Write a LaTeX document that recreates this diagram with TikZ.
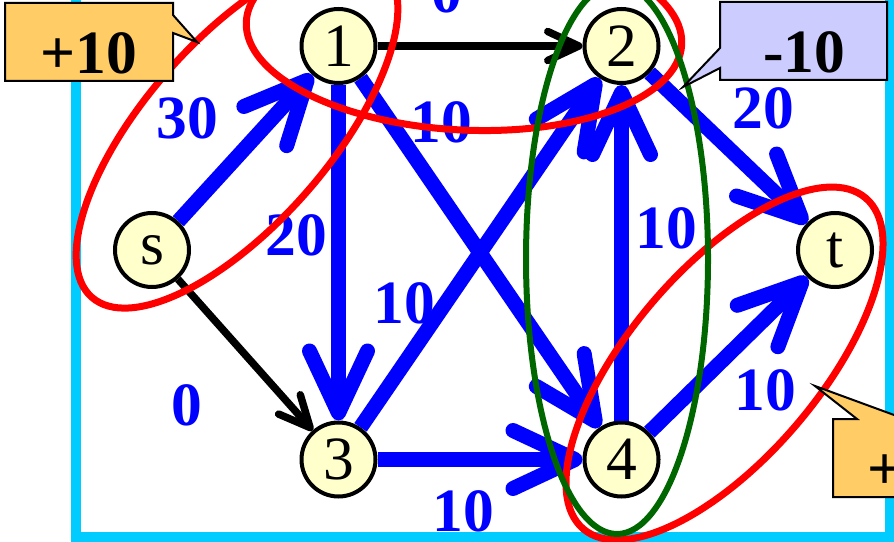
\documentclass[tikz,border=0pt]{standalone}
\usepackage{fontspec}
\setmainfont{Liberation Serif}
\usetikzlibrary{arrows.meta}

\definecolor{nodefill}{RGB}{255,255,204}
\definecolor{framecyan}{RGB}{0,204,255}
\definecolor{cutgreen}{RGB}{0,102,0}
\definecolor{gainorange}{RGB}{255,204,102}
\definecolor{losslilac}{RGB}{204,204,255}

\newcommand{\bigfont}{\fontsize{35}{40}\selectfont}

\begin{document}
\begin{tikzpicture}[
    vertex/.style={circle, draw=black, line width=0.08cm, fill=nodefill,
                   minimum size=1.48cm, inner sep=0pt, font=\bigfont},
    flow/.style={draw=blue, line width=0.3cm,
                 -{Straight Barb[length=1.24cm, width=1.16cm, line width=0.3cm, round]}},
    zeroflow/.style={draw=black, line width=0.15cm,
                 -{Straight Barb[length=0.62cm, width=0.58cm, line width=0.15cm, round]}},
    weight/.style={font=\bigfont\bfseries, text=blue, inner sep=0pt, text depth=0pt},
    cut/.style={draw=red, line width=0.14cm},
    callout/.style={draw=black, line width=0.04cm},
    tag/.style={font=\bigfont\bfseries, inner sep=0pt, text depth=0pt}
]
\useasboundingbox (0,0) rectangle (17.88,10.82);
\clip (0,0) rectangle (17.88,10.82);
\draw[framecyan, line width=0.2cm] (1.52,11.5) -- (1.52,0.08) -- (17.80,0.08) -- (17.80,11.5);

\node[vertex] (s) at (3.04,5.82) {s};
\node[vertex] (1) at (6.77,9.90) {1};
\node[vertex] (2) at (12.43,9.90) {2};
\node[vertex] (3) at (6.77,1.63) {3};
\node[vertex] (4) at (12.43,1.63) {4};
\node[vertex] (t) at (16.70,5.82) {t};

\foreach \a/\b in {s/1,1/3,1/4,3/2,3/4,4/2,2/t,4/t} {
    \draw[flow] (\a) -- (\b);
}
\draw[zeroflow] (s) -- (3);
\draw[zeroflow] (1) -- (2);

% capacities
\node[weight] (w-s1) at (3.74,8.46) {30};
\node[weight] (w-s3) at (3.74,2.72) {0};
\node[weight] (w-12) at (8.94,10.98) {0};
\node[weight] (w-13) at (5.92,6.12) {20};
\node[weight] (w-14) at (8.82,8.38) {10};
\node[weight] (w-32) at (8.08,4.76) {10};
\node[weight] (w-34) at (9.26,0.60) {10};
\node[weight] (w-42) at (13.32,6.26) {10};
\node[weight] (w-2t) at (15.26,8.66) {20};
\node[weight] (w-4t) at (15.30,3.02) {10};

% cuts
\draw[cut, rotate around={48.7:(4.74,8.18)}] (4.74,8.18) ellipse [x radius=4.40, y radius=1.84];
\draw[cut, rotate around={-3:(9.28,10.16)}] (9.28,10.16) ellipse [x radius=4.36, y radius=1.94];
\draw[cut, rotate around={49.5:(14.49,3.55)}] (14.49,3.55) ellipse [x radius=4.35, y radius=1.89];
\draw[cutgreen, line width=0.12cm] (12.34,5.64) ellipse [x radius=1.82, y radius=5.50];

% callouts
\draw[callout, fill=gainorange] (0.10,10.76) -- (3.46,10.76) -- (3.46,10.52) -- (3.94,9.98)
    -- (3.46,10.16) -- (3.46,9.20) -- (0.10,9.20) -- cycle;
\node[tag] (gain-a) at (1.78,9.76) {+10};
\draw[callout, fill=losslilac] (14.40,10.78) -- (17.74,10.78) -- (17.74,9.22) -- (14.40,9.22)
    -- (14.40,9.46) -- (13.66,9.08) -- (14.40,9.86) -- cycle;
\node[tag] (loss) at (16.08,9.78) {-10};
\draw[callout, fill=gainorange] (16.66,2.44) -- (17.14,2.44) -- (16.30,3.10) -- (18.10,2.44)
    -- (20.02,2.44) -- (20.02,0.88) -- (16.66,0.88) -- cycle;
\node[tag] (gain-b) at (18.32,1.44) {+10};
\end{tikzpicture}
\end{document}
